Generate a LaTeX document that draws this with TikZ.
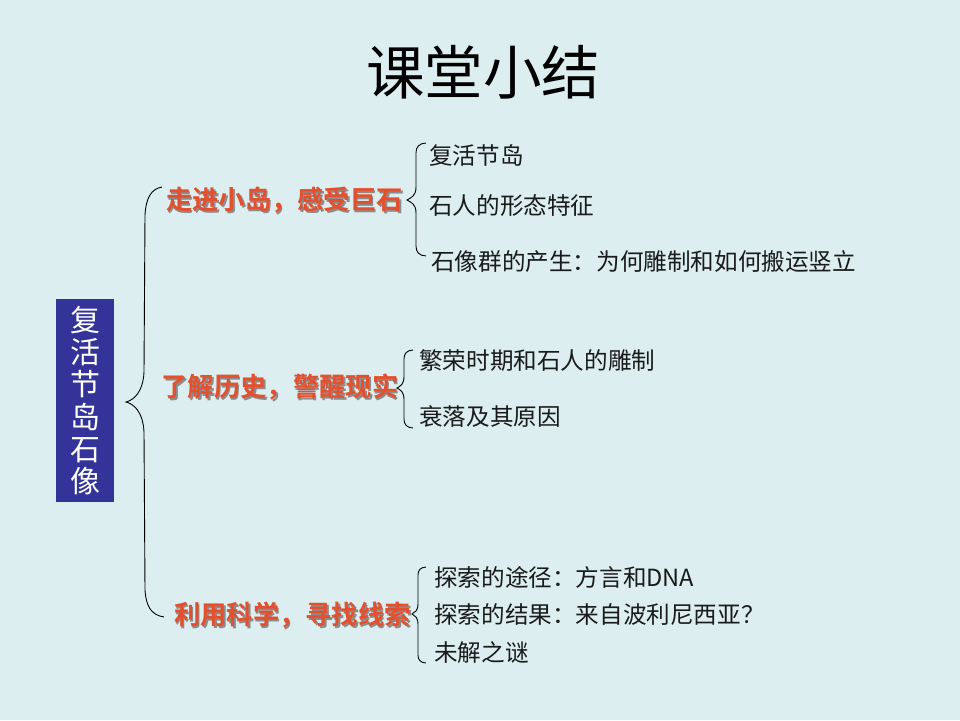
\documentclass[tikz,border=0pt]{standalone}
\usepackage{fontspec}
\newfontfamily\cjk{Noto Sans CJK SC}
\newfontfamily\cjkb{Noto Sans CJK SC Bold}
\definecolor{bg}{HTML}{DCEEF0}
\definecolor{boxblue}{HTML}{333399}
\definecolor{lblred}{HTML}{E4502E}
\definecolor{txt}{HTML}{1A1A1A}
\tikzset{
  item/.style={anchor=west, inner sep=0pt, text=txt, font=\cjk\fontsize{23.6}{25}\selectfont},
  lbl/.style={inner sep=0pt, text=lblred, font=\cjkb\fontsize{26.3}{28}\selectfont},
  lblshadow/.style={inner sep=0pt, text=black!45, font=\cjkb\fontsize{26.3}{28}\selectfont},
  bracestyle/.style={draw=black, line width=0.9pt}
}
\newcommand\cbrace[6]{% #1 line x, #2 top y, #3 tip y, #4 bottom y, #5 hook, #6 tip depth
  \draw[bracestyle] ({#1+#5},#2) .. controls ({#1+0.3*#5},{#2+0.3}) and (#1,{#2+0.4*#5}) .. (#1,{#2+#5})
    -- (#1,{#3-1.3*#5}) .. controls (#1,{#3-0.4*#5}) and ({#1-0.5*#6},{#3-0.3*#6}) .. ({#1-#6},#3)
    .. controls ({#1-0.5*#6},{#3+0.3*#6}) and (#1,{#3+0.4*#5}) .. (#1,{#3+1.3*#5})
    -- (#1,{#4-#5}) .. controls (#1,{#4-0.4*#5}) and ({#1+0.3*#5},{#4-0.3}) .. ({#1+#5},#4);
}
\begin{document}
\begin{tikzpicture}[x=1pt,y=-1pt]
\fill[bg] (0,0) rectangle (960,720);
\useasboundingbox (0,0) rectangle (960,720);
% title
\node[inner sep=0pt, text=black, font=\cjk\fontsize{58.5}{62}\selectfont] (title) at (483,72) {课堂小结};
% left box
\fill[boxblue] (56,299) rectangle (114,502);
\node[inner sep=0pt, text=white, align=center, font=\cjk\fontsize{30}{32.3}\selectfont] (main) at (85,400.5) {复\\活\\节\\岛\\石\\像};
% big brace
\coordinate (bigtip) at (126,402);
\draw[bracestyle] (162,187) .. controls (151,189) and (146,198) .. (145,215)
  -- (144,372) .. controls (143,392) and (134,400) .. (bigtip)
  .. controls (134,404) and (143,412) .. (144,432)
  -- (145,590) .. controls (146,606) and (151,615) .. (164,617);
% labels with shadow
\foreach \n/\x/\y/\t in {l1/284.5/200/走进小岛，感受巨石, l2/280/387/了解历史，警醒现实, l3/292.5/615/利用科学，寻找线索}{
  \node[lblshadow] at (\x+1.6,\y+1.8) {\t};
  \node[lbl] (\n) at (\x,\y) {\t};
}
% small braces
\cbrace{416}{143}{200}{256}{10}{9}
\cbrace{404}{350}{388}{428}{9}{7}
\cbrace{418}{567}{614}{663}{8}{6}
% items
\node[item] (a1) at (429,155) {复活节岛};
\node[item] (a2) at (429,206) {石人的形态特征};
\node[item] (a3) at (431,262) {石像群的产生：为何雕制和如何搬运竖立};
\node[item] (b1) at (419,361) {繁荣时期和石人的雕制};
\node[item] (b2) at (419,416) {衰落及其原因};
\node[item] (c1) at (434,577) {探索的途径：方言和DNA};
\node[item] (c2) at (434,614) {探索的结果：来自波利尼西亚？};
\node[item] (c3) at (434,652) {未解之谜};
\end{tikzpicture}
\end{document}
